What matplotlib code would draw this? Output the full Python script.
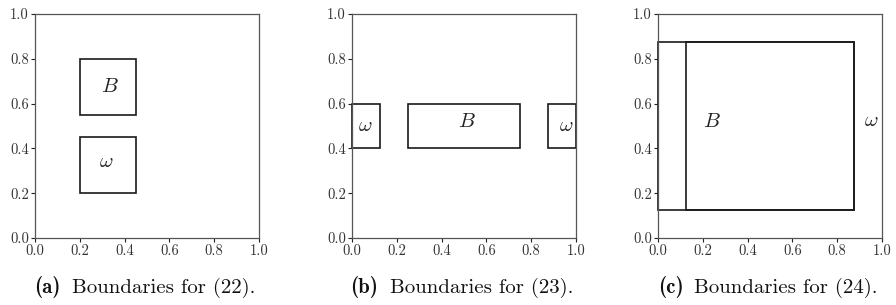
import matplotlib
matplotlib.use("Agg")
import matplotlib.pyplot as plt
from matplotlib.patches import Rectangle
from matplotlib.offsetbox import TextArea, HPacker, AnnotationBbox

plt.rcParams['font.family'] = 'serif'
plt.rcParams['font.serif'] = ['cmr10']
plt.rcParams['mathtext.fontset'] = 'cm'
plt.rcParams['axes.unicode_minus'] = False
plt.rcParams['axes.formatter.use_mathtext'] = True

# Rectangles: (x0, y0, width, height)
rects_a = [(0.2, 0.55, 0.25, 0.25), (0.2, 0.2, 0.25, 0.25)]
labels_a = [(0.335, 0.675, r'$B$'), (0.32, 0.34, r'$\omega$')]

rects_b = [(0.0, 0.4, 0.125, 0.2), (0.25, 0.4, 0.5, 0.2), (0.875, 0.4, 0.125, 0.2)]
labels_b = [(0.06, 0.5, r'$\omega$'), (0.515, 0.52, r'$B$'), (0.955, 0.5, r'$\omega$')]

rects_c = [(0.0, 0.125, 0.875, 0.75), (0.125, 0.125, 0.75, 0.75)]
labels_c = [(0.24, 0.52, r'$B$'), (0.95, 0.52, r'$\omega$')]

caption_tags = ['(a)', '(b)', '(c)']
caption_texts = ['Boundaries for (22).', 'Boundaries for (23).', 'Boundaries for (24).']
ticks = [0.0, 0.2, 0.4, 0.6, 0.8, 1.0]
tick_labels = ['0.0', '0.2', '0.4', '0.6', '0.8', '1.0']

fig = plt.figure(figsize=(8.96, 3.05), dpi=100)
lefts = [35/896, 352/896, 658/896]
panels = [(rects_a, labels_a), (rects_b, labels_b), (rects_c, labels_c)]
for left, (rects, labels), tag, cap in zip(lefts, panels, caption_tags, caption_texts):
    ax = fig.add_axes([left, 67/305, 224/896, 224/305])
    ax.set_xlim(0, 1)
    ax.set_ylim(0, 1)
    ax.set_xticks(ticks)
    ax.set_yticks(ticks)
    ax.set_xticklabels(tick_labels)
    ax.set_yticklabels(tick_labels)
    ax.tick_params(direction='out', length=3, width=0.8, pad=1.5, labelsize=10.5,
                   colors='#222222', labelcolor='#333333')
    for s in ax.spines.values():
        s.set_color('#555555')
        s.set_linewidth(0.9)
    for (x0, y0, w, h) in rects:
        ax.add_patch(Rectangle((x0, y0), w, h, fill=False, edgecolor='#1a1a1a',
                               linewidth=1.2, clip_on=False))
    for (x, y, t) in labels:
        ax.text(x, y, t, fontsize=15, ha='center', va='center', color='#222222')
    t1 = TextArea(tag, textprops=dict(fontfamily='cmb10', fontsize=15, color='#111111'))
    t2 = TextArea(cap, textprops=dict(fontfamily='cmr10', fontsize=15, color='#111111'))
    box = HPacker(children=[t1, t2], align='baseline', pad=0, sep=8)
    ab = AnnotationBbox(box, (0.49, -0.22), xycoords='axes fraction', frameon=False,
                        box_alignment=(0.5, 0.5), annotation_clip=False)
    ax.add_artist(ab)

fig.savefig('out.png', dpi=100)
